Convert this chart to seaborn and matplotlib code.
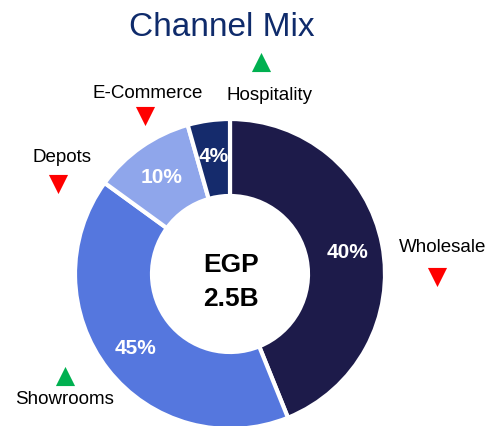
import matplotlib
matplotlib.use("Agg")
import matplotlib.pyplot as plt
import seaborn as sns

# data (slice sizes read from the drawn arcs; labels as printed on the chart)
channels = ["Wholesale", "Showrooms", "Depots", "E-Commerce", "Hospitality"]
shares = [43.9, 41.1, 0, 10.6, 4.4]
pct_labels = ["40%", "45%", "", "10%", "4%"]
trend = ["down", "up", "down", "down", "up"]
total_label = "EGP\n2.5B"

# style
colors = ["#1d1b4a", "#5577de", "#5577de", "#8fa6eb", "#152b6c"]
trend_colors = {"up": "#00b050", "down": "#ff0000"}
title_color = "#0f2b6b"

# layout in pixel coords (top-left origin): label text pos, marker pos
label_pos = {
    "Wholesale": ((443, 248), (437, 278)),
    "Showrooms": ((65, 400), (65, 377)),
    "Depots": ((62, 158), (58, 185)),
    "E-Commerce": ((148, 93), (145, 117)),
    "Hospitality": ((270, 95), (261, 63)),
}

W, H = 494, 427
sns.set_style("white")
plt.rcParams["font.family"] = ["Liberation Sans", "DejaVu Sans"]

fig = plt.figure(figsize=(W / 100, H / 100), dpi=100)
ax = fig.add_axes([0, 0, 1, 1])

cx, cy, r_out, r_in = 230, H - 275, 155, 78

# leave out zero slices so no stray white edge is drawn
keep = [i for i, v in enumerate(shares) if v > 0]
wedges, _ = ax.pie(
    [shares[i] for i in keep], colors=[colors[i] for i in keep],
    startangle=90, counterclock=False,
    center=(cx, cy), radius=r_out, frame=True,
    wedgeprops=dict(width=r_out - r_in, edgecolor="white", linewidth=3),
)
ax.set_xlim(0, W)
ax.set_ylim(0, H)
ax.set_aspect("equal")
ax.axis("off")

# percentage labels at the middle of each ring slice
import numpy as np
r_lab = 0.77 * r_out
for w, i in zip(wedges, keep):
    mid = np.deg2rad((w.theta1 + w.theta2) / 2)
    ax.text(cx + r_lab * np.cos(mid), cy + r_lab * np.sin(mid), pct_labels[i],
            ha="center", va="center", fontsize=15, fontweight="bold", color="white")

ax.text(cx + 1, H - 282, total_label, ha="center", va="center", fontsize=19,
        fontweight="bold", color="black", linespacing=1.5)

for name, t in zip(channels, trend):
    (tx, ty), (mx, my) = label_pos[name]
    ax.text(tx, H - ty, name, ha="center", va="center", fontsize=13.5, color="black")
    ax.scatter([mx], [H - my], marker="^" if t == "up" else "v", s=190,
               color=trend_colors[t], linewidths=0, zorder=5)

ax.text(222, H - 28, "Channel Mix", ha="center", va="center", fontsize=24,
        color=title_color)

fig.savefig("out.png", dpi=100)
